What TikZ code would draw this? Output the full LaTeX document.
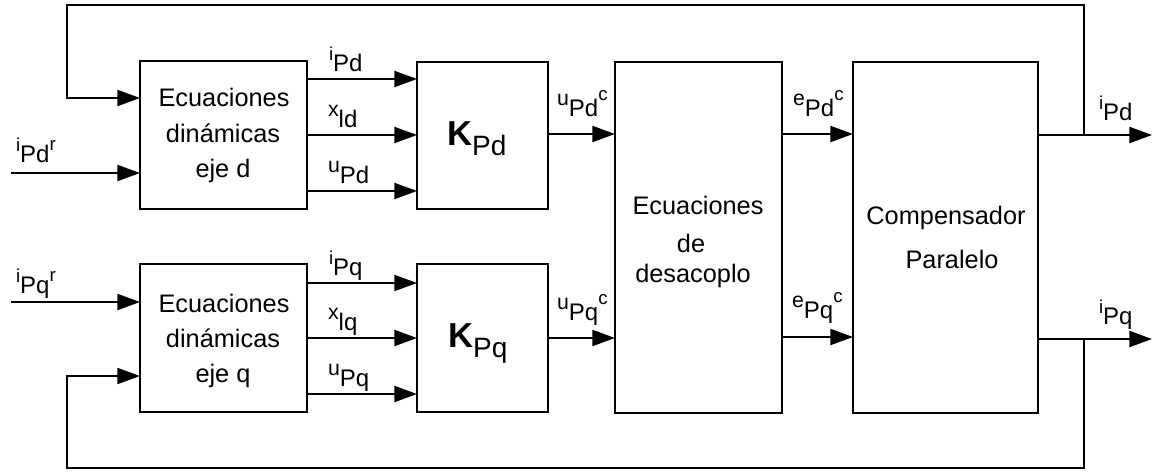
\documentclass[tikz,border=0pt]{standalone}
\usepackage{fontspec}
\setmainfont{Liberation Sans}
\usetikzlibrary{arrows.meta,fit}
\newcommand{\sigl}[5]{{\fontsize{#5}{#5}\selectfont\raisebox{8pt}{#1}}{\fontsize{18}{18}\selectfont #2}{\fontsize{14}{14}\selectfont\raisebox{#4}{#3}}}
\newcommand{\bigK}[1]{{\fontsize{26}{26}\selectfont\bfseries K}\raisebox{-7.5pt}{\fontsize{21}{21}\selectfont #1}}
\begin{document}
\begin{tikzpicture}[x=0.75pt,y=-0.75pt,line width=1.6pt,
  blk/.style={draw,inner sep=0pt,outer sep=0pt},
  arr/.style={-{Triangle[length=17pt,width=12pt]}},
  txt/.style={anchor=base,inner sep=0pt,font=\fontsize{19}{19}\selectfont},
  lab/.style={anchor=base west,inner sep=0pt}]
\useasboundingbox (0,0) rectangle (1153,472);
% blocks
\node[blk,fit={(140,61)(307,209)}] (Dd) {};
\node[blk,fit={(140,264)(307,412)}] (Dq) {};
\node[blk,fit={(417,62)(548,209)}] (Kd) {};
\node[blk,fit={(417,264)(548,412)}] (Kq) {};
\node[blk,fit={(615,62)(782,413)}] (Dec) {};
\node[blk,fit={(853,62)(1038,413)}] (Comp) {};
% block texts
\node[txt] (Dd1) at (224,106) {Ecuaciones};
\node[txt] (Dd2) at (223,142) {dinámicas};
\node[txt] (Dd3) at (223,177) {eje d};
\node[txt] (Dq1) at (224,312) {Ecuaciones};
\node[txt] (Dq2) at (223,347) {dinámicas};
\node[txt] (Dq3) at (223,382) {eje q};
\node[anchor=base west,inner sep=0pt] (Kdt) at (446,145) {\bigK{Pd}};
\node[anchor=base west,inner sep=0pt] (Kqt) at (447,347) {\bigK{Pq}};
\node[txt] (De1) at (698,214) {Ecuaciones};
\node[txt] (De2) at (691,252) {de};
\node[txt] (De3) at (693,282) {desacoplo};
\node[txt] (Co1) at (946,224) {Compensador};
\node[txt] (Co2) at (952,268) {Paralelo};
% coordinates
\coordinate (inD) at (11,173);
\coordinate (inQ) at (11,302);
\coordinate (outD) at (1152,135);
\coordinate (outQ) at (1152,339);
\coordinate (brD) at (1084,135);
\coordinate (brQ) at (1084,339);
\coordinate (tR) at (1084,5);
\coordinate (tL) at (67,5);
\coordinate (fD) at (67,98);
\coordinate (bR) at (1084,468);
\coordinate (bL) at (67,468);
\coordinate (fQ) at (67,376);
% connectors
\draw[arr] (inD) -- (Dd.west |- inD);
\draw[arr] (inQ) -- (Dq.west |- inQ);
\draw[arr] (Dd.east |- 0,79) -- (Kd.west |- 0,79);
\draw[arr] (Dd.east |- 0,135) -- (Kd.west |- 0,135);
\draw[arr] (Dd.east |- 0,191) -- (Kd.west |- 0,191);
\draw[arr] (Dq.east |- 0,283) -- (Kq.west |- 0,283);
\draw[arr] (Dq.east |- 0,338) -- (Kq.west |- 0,338);
\draw[arr] (Dq.east |- 0,394) -- (Kq.west |- 0,394);
\draw[arr] (Kd.east |- 0,134) -- (Dec.west |- 0,134);
\draw[arr] (Kq.east |- 0,338) -- (Dec.west |- 0,338);
\draw[arr] (Dec.east |- 0,134) -- (Comp.west |- 0,134);
\draw[arr] (Dec.east |- 0,337) -- (Comp.west |- 0,337);
\draw[arr] (Comp.east |- outD) -- (outD);
\draw[arr] (Comp.east |- outQ) -- (outQ);
\draw[arr] (brD) -- (tR) -- (tL) -- (fD) -- (Dd.west |- fD);
\draw[arr] (brQ) -- (bR) -- (bL) -- (fQ) -- (Dq.west |- fQ);
% signal labels
\node[lab] (l1) at (328,71) {\sigl{i}{Pd}{}{0pt}{14}};
\node[lab] (l2) at (327,127) {\sigl{x}{ld}{}{0pt}{16}};
\node[lab] (l3) at (327,183) {\sigl{u}{Pd}{}{0pt}{16}};
\node[lab] (l4) at (328,275) {\sigl{i}{Pq}{}{0pt}{14}};
\node[lab] (l5) at (327,330) {\sigl{x}{lq}{}{0pt}{16}};
\node[lab] (l6) at (327,386) {\sigl{u}{Pq}{}{0pt}{16}};
\node[lab] (l7) at (556,116) {\sigl{u}{Pd}{c}{12pt}{16}};
\node[lab] (l8) at (556,320) {\sigl{u}{Pq}{c}{12pt}{16}};
\node[lab] (l9) at (792,116) {\sigl{e}{Pd}{c}{12pt}{16}};
\node[lab] (l10) at (791,318) {\sigl{e}{Pq}{c}{12pt}{16}};
\node[lab] (l11) at (1098,120) {\sigl{i}{Pd}{}{0pt}{14}};
\node[lab] (l12) at (1098,324) {\sigl{i}{Pq}{}{0pt}{14}};
\node[lab] (l13) at (15,162) {\sigl{i}{Pd}{r}{9pt}{14}};
\node[lab] (l14) at (15,293) {\sigl{i}{Pq}{r}{9pt}{14}};
\end{tikzpicture}
\end{document}
